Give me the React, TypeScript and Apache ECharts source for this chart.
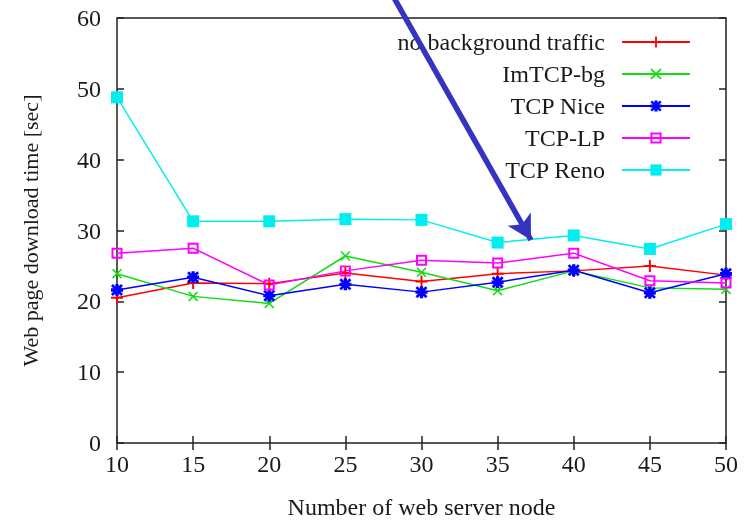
import React, { useEffect, useRef } from "react";
import * as echarts from "echarts";

// Number of web server nodes (x values)
const nodes = [10, 15, 20, 25, 30, 35, 40, 45, 50];

// Web page download time [sec] per scenario
const noBackground = [20.5, 22.6, 22.5, 24.0, 22.8, 23.9, 24.3, 25.0, 23.7];
const imTcpBg = [23.9, 20.7, 19.7, 26.4, 24.1, 21.5, 24.3, 21.9, 21.7];
const tcpNice = [21.6, 23.4, 20.8, 22.4, 21.3, 22.7, 24.4, 21.2, 23.9];
const tcpLp = [26.8, 27.5, 22.3, 24.3, 25.8, 25.4, 26.8, 22.9, 22.6];
const tcpReno = [48.8, 31.3, 31.3, 31.6, 31.5, 28.3, 29.3, 27.4, 30.9];

const seriesNames = [
  "no background traffic",
  "ImTCP-bg",
  "TCP Nice",
  "TCP-LP",
  "TCP Reno",
];

const yTicks = [0, 10, 20, 30, 40, 50, 60];

// gnuplot-like point glyphs
const PLUS = "path://M4.2,0H5.8V4.2H10V5.8H5.8V10H4.2V5.8H0V4.2H4.2Z";
const CROSS =
  "path://M0,1.1L1.1,0L5,3.9L8.9,0L10,1.1L6.1,5L10,8.9L8.9,10L5,6.1L1.1,10L0,8.9L3.9,5Z";
const STAR =
  "path://M3.6,0H6.4V3.6H10V6.4H6.4V10H3.6V6.4H0V3.6H3.6Z M0,1.6L1.6,0L5,3.4L8.4,0L10,1.6L6.6,5L10,8.4L8.4,10L5,6.6L1.6,10L0,8.4L3.4,5Z";
const OPEN_SQUARE = "path://M0,0H10V10H0Z M1.8,1.8V8.2H8.2V1.8Z";

const FONT = "Liberation Serif";
const TEXT = "#1a1a1a";
const FRAME = "#222222";
const ARROW = "#3434c0";

const pairs = (ys: number[]) => nodes.map((x, i) => [x, ys[i]]);

export default function App() {
  const ref = useRef<HTMLDivElement>(null);

  useEffect(() => {
    if (!ref.current) return;
    const chart = echarts.init(ref.current, undefined, { renderer: "svg" });

    const mk = (
      name: string,
      data: number[],
      color: string,
      symbol: string,
      size: number
    ) => ({
      name,
      type: "line",
      data: pairs(data),
      symbol,
      symbolSize: size,
      showAllSymbol: true,
      lineStyle: { color, width: 1.5 },
      itemStyle: { color },
      z: 3,
    });

    const labelStyle = { fontFamily: FONT, fontSize: 24, color: TEXT };
    const tick = {
      inside: true,
      length: 7,
      lineStyle: { color: FRAME, width: 1.5 },
    };

    const reno = mk(seriesNames[4], tcpReno, "#00eeee", "rect", 12);
    // annotation arrow pointing down at the TCP Reno curve
    const renoWithArrow = {
      ...reno,
      markLine: {
        silent: true,
        symbol: ["none", "arrow"],
        symbolSize: [20, 24],
        label: { show: false },
        lineStyle: { color: ARROW, width: 5.5, type: "solid" },
        z: 100,
        data: [[{ x: 393, y: -4 }, { x: 531, y: 240 }]],
      },
    };

    chart.setOption({
      animation: false,
      grid: {
        left: 117,
        right: 21,
        top: 18,
        bottom: 79,
        show: true,
        borderColor: FRAME,
        borderWidth: 1.5,
      },
      legend: {
        orient: "vertical",
        align: "right",
        right: 51,
        top: 25,
        itemWidth: 68,
        itemHeight: 14,
        itemGap: 8,
        data: seriesNames,
        textStyle: {
          ...labelStyle,
          lineHeight: 24,
          padding: [0, 12, 0, 0],
        },
      },
      xAxis: [
        {
          type: "value",
          position: "bottom",
          min: 10,
          max: 50,
          interval: 5,
          axisLine: { show: false },
          axisTick: tick,
          splitLine: { show: false },
          axisLabel: { ...labelStyle, margin: 9 },
          name: "Number of web server node",
          nameLocation: "middle",
          nameGap: 52,
          nameTextStyle: { ...labelStyle },
        },
        {
          type: "value",
          position: "top",
          min: 10,
          max: 50,
          interval: 5,
          axisLine: { show: false },
          axisTick: tick,
          splitLine: { show: false },
          axisLabel: { show: false },
        },
      ],
      yAxis: [
        {
          type: "value",
          position: "left",
          min: yTicks[0],
          max: yTicks[yTicks.length - 1],
          interval: 10,
          axisLine: { show: false },
          axisTick: tick,
          splitLine: { show: false },
          axisLabel: { ...labelStyle, margin: 16 },
          name: "Web page download time [sec]",
          nameLocation: "middle",
          nameRotate: 90,
          nameGap: 76,
          nameTextStyle: { ...labelStyle, fontSize: 22 },
        },
        {
          type: "value",
          position: "right",
          min: yTicks[0],
          max: yTicks[yTicks.length - 1],
          interval: 10,
          axisLine: { show: false },
          axisTick: tick,
          splitLine: { show: false },
          axisLabel: { show: false },
        },
      ],
      series: [
        mk(seriesNames[0], noBackground, "#ff0000", PLUS, 12),
        mk(seriesNames[1], imTcpBg, "#11dd11", CROSS, 10),
        mk(seriesNames[2], tcpNice, "#0000ff", STAR, 12),
        mk(seriesNames[3], tcpLp, "#ff00ff", OPEN_SQUARE, 11),
        renoWithArrow,
      ],
    });

    return () => chart.dispose();
  }, []);

  return (
    <div
      ref={ref}
      style={{ position: "fixed", left: 0, top: 0, width: 747, height: 524 }}
    />
  );
}
